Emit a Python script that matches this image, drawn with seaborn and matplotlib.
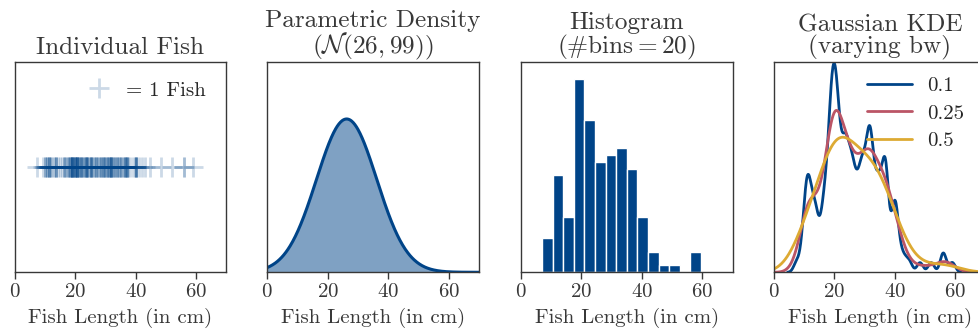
import numpy as np
import pandas as pd
import matplotlib
matplotlib.use("Agg")
import matplotlib.pyplot as plt
from matplotlib.lines import Line2D
import seaborn as sns

# Fish lengths (cm), Length1 of the fish market data, by species
bream = [23.2, 24, 23.9, 26.3, 26.5, 26.8, 26.8, 27.6, 27.6, 28.5, 28.4, 28.7, 29.1, 29.5,
         29.4, 29.4, 30.4, 30.4, 30.9, 31, 31.3, 31.4, 31.5, 31.8, 31.9, 31.8, 32, 32.7, 32.8,
         33.5, 35, 35, 36.2, 37.4, 38]
roach = [12.9, 16.5, 17.5, 18.2, 18.6, 19, 19.1, 19.4, 20.4, 20.5, 20.5, 21, 21.1, 22, 22,
         22.1, 23.6, 24, 25, 29.5]
whitefish = [23.6, 24.1, 25.6, 28.5, 33.7, 37.3]
parkki = [13.5, 14.3, 16.3, 17.5, 18.4, 19, 19, 19.8, 21.2, 23, 24]
perch = [7.5, 12.5, 13.8, 15, 15.7, 16.2, 16.8, 17.2, 17.8, 18.2, 19, 19, 19, 19.3, 20, 20,
         20, 20, 20, 20.5, 20.5, 20.7, 21, 21.5, 22, 22, 22.6, 23, 23.5, 25, 25.2, 25.4, 25.4,
         25.4, 25.9, 26.9, 27.8, 30.5, 32, 32.5, 34, 34, 34.5, 34.6, 36.5, 36.5, 36.6, 36.9,
         37, 37, 37.1, 39, 39.8, 40.1, 40.2, 41.1]
pike = [30, 31.7, 32.7, 34.8, 35.5, 36, 40, 40, 40.1, 42, 43.2, 44.8, 48.3, 52, 56, 56, 59]
smelt = [9.3, 10, 10.1, 10.4, 10.7, 10.8, 11.3, 11.3, 11.4, 11.5, 11.7, 12.1, 13.2, 13.8]

bandwidths = [0.1, 0.25, 0.5]
kde_colors = ["#004488", "#BB5566", "#DDAA33"]
xticks = [0, 20, 40, 60]
titles = ["Individual Fish",
          "Parametric Density\n" + r"$(\mathcal{N}(26, 99))$",
          "Histogram\n" + r"$(\#\mathrm{bins} = 20)$",
          "Gaussian KDE\n(varying bw)"]
xlabel = "Fish Length (in cm)"

fish = np.array(bream + roach + whitefish + parkki + perch + pike + smelt, dtype=float)
df = pd.DataFrame({"length": fish, "y": 0.0})

BLUE = "#004488"
TXT = ".22"
TITLE_FS, LABEL_FS, TICK_FS, LEG_FS = 18.2, 15, 15, 15

sns.set_theme(style="ticks")
plt.rcParams["font.family"] = ["serif"]
plt.rcParams["font.serif"] = ["cmr10", "DejaVu Serif"]
plt.rcParams["mathtext.fontset"] = "cm"
plt.rcParams["axes.formatter.use_mathtext"] = True
plt.rcParams["axes.unicode_minus"] = False

fig = plt.figure(figsize=(9.79, 3.36), dpi=100)
W, H = 979, 336
lefts = [14.7, 267.3, 521.0, 774.0]
aw, top, bot = 211.6, 62.0, 272.3
axes = [fig.add_axes([l / W, (H - bot) / H, aw / W, (bot - top) / H]) for l in lefts]


def finish(ax, t):
    ax.set_xlim(0, 70)
    ax.set_xticks(xticks)
    ax.set_yticks([])
    ax.set_xlabel(xlabel, fontsize=LABEL_FS, color=TXT, labelpad=5)
    ax.set_ylabel("")
    ax.set_title(t, fontsize=TITLE_FS, color=TXT, pad=6, linespacing=0.95)
    ax.tick_params(axis="x", labelsize=TICK_FS, colors=TXT, length=5, width=1, pad=3)
    for s in ax.spines.values():
        s.set_visible(True)
        s.set_color(TXT)
        s.set_linewidth(1.0)


# Panel 1: individual fish
ax = axes[0]
sns.scatterplot(data=df, x="length", y="y", marker="+", s=190, linewidth=2.0,
                color=BLUE, alpha=0.2, ax=ax, legend=False)
ax.set_ylim(-1, 1)
h = Line2D([], [], marker="+", ls="", ms=14, mew=2.0, color=BLUE, alpha=0.2)
ax.legend(handles=[h], labels=["= 1 Fish"], loc="upper right", frameon=False,
          fontsize=LEG_FS, handletextpad=0.3, borderpad=0, borderaxespad=0,
          bbox_to_anchor=(0.905, 0.91))
finish(ax, titles[0])

# Panel 2: parametric density
ax = axes[1]
mu = fish.mean()
var = fish.var()
xs = np.linspace(0, 70, 400)
pdf = np.exp(-(xs - mu) ** 2 / (2 * var)) / np.sqrt(2 * np.pi * var)
sns.lineplot(x=xs, y=pdf, color=BLUE, lw=2.2, ax=ax)
ax.fill_between(xs, pdf, color=BLUE, alpha=0.5, lw=0)
ax.set_ylim(0, pdf.max() / 0.729)
finish(ax, titles[1])

# Panel 3: histogram
ax = axes[2]
sns.histplot(x=fish, bins=20, binrange=(0, 70), color=BLUE, alpha=1.0,
             edgecolor="white", linewidth=1.0, ax=ax)
ax.set_ylim(0, 30.4)
finish(ax, titles[2])

# Panel 4: KDE with varying bandwidth
ax = axes[3]
for bw, c in zip(bandwidths, kde_colors):
    sns.kdeplot(x=fish, bw_method=bw, color=c, lw=2.0, ax=ax, label=str(bw), gridsize=400)
ymax = max(l.get_ydata().max() for l in ax.get_lines())
ax.set_ylim(0, ymax / 0.994)
ax.legend(loc="upper left", bbox_to_anchor=(0.44, 0.93), frameon=False, fontsize=LEG_FS,
          handlelength=2.15, handletextpad=0.75, labelspacing=0.42, borderpad=0,
          borderaxespad=0)
finish(ax, titles[3])

fig.savefig("out.png", dpi=100)
